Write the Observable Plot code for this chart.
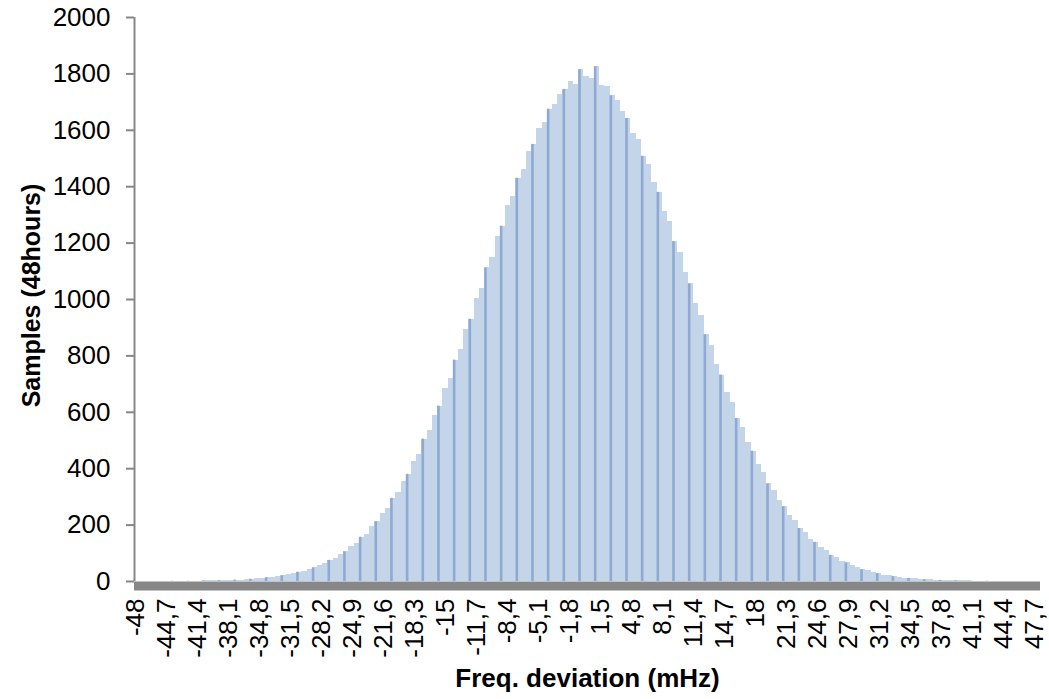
<!DOCTYPE html>
<html><head><meta charset="utf-8">
<script src="https://cdn.jsdelivr.net/npm/d3@7"></script>
<script src="https://cdn.jsdelivr.net/npm/@observablehq/plot@0.6"></script>
<style>body{margin:0;background:#fff;}</style>
</head><body><div id="chart"></div>
<script>
// Histogram of frequency deviation (mHz) in 0.556 mHz slices
const binStart = -48.3;
const binWidth = 0.556;
const counts = [
  0,0,0,0,0,0,0,1,0,1,
  1,1,1,2,2,2,
  3,3,4,5,5,7,8,9,11,13,
  15,18,20,25,27,33,36,44,48,58,
  63,75,82,97,105,124,134,157,168,196,
  212,240,258,295,315,356,380,426,452,505,
  535,590,622,685,720,785,822,892,930,1002,
  1040,1112,1150,1225,1260,1332,1365,1430,1462,1525,
  1550,1605,1628,1675,1690,1728,1745,1772,1762,1815,
  1790,
  1782,1825,1760,1755,1722,1705,1668,1642,1590,1568,
  1508,1478,1415,1380,1312,1275,1205,1166,1095,1055,
  985,945,875,838,770,732,670,636,578,545,
  492,462,415,388,346,322,286,265,233,216,
  188,174,150,139,119,109,93,85,72,66,
  55,50,42,38,31,28,23,21,17,15,
  12,11,9,8,6,6,4,4,3,3,
  2,2,2,1,1,1,1,0,1,0,
  0,0,0,0,0,0
];
const xTicks = [-48,-44.7,-41.4,-38.1,-34.8,-31.5,-28.2,-24.9,-21.6,-18.3,-15,-11.7,-8.4,-5.1,-1.8,1.5,4.8,8.1,11.4,14.7,18,21.3,24.6,27.9,31.2,34.5,37.8,41.1,44.4,47.7];
const yTicks = [0,200,400,600,800,1000,1200,1400,1600,1800,2000];
const xTitle = "Freq. deviation (mHz)";
const yTitle = "Samples (48hours)";

const bins = counts.map((c, i) => ({x1: binStart + i * binWidth, x2: binStart + (i + 1) * binWidth, count: c, dark: i % 3 === 1}));
const darkBins = bins.filter(d => d.dark);

const chart = Plot.plot({
  width: 1049, height: 699,
  marginLeft: 134, marginRight: 9, marginTop: 17, marginBottom: 118,
  style: {fontFamily: 'Arial, "Liberation Sans", sans-serif', fontSize: "26px", color: "#000", background: "#fff"},
  x: {type: "linear", domain: [-48.32, 48.12]},
  y: {domain: [0, 2000]},
  marks: [
    Plot.rectY(bins, {x1: "x1", x2: "x2", y: "count", fill: "#c5d5e9", shapeRendering: "crispEdges"}),
    Plot.rectY(darkBins, {x1: "x1", x2: d => d.x1 + 0.28, y: "count", fill: "#8eaad3"}),
    Plot.ruleY([0], {stroke: "#878787", strokeWidth: 9, dy: 4.5}),
    Plot.ruleX([-48.32], {stroke: "#878787", strokeWidth: 2}),
    Plot.axisY({ticks: yTicks, tickFormat: d => String(d), tickSize: 8, tickPadding: 16, stroke: "#878787", strokeWidth: 2, fill: "#000", fontSize: 26, label: null}),
    Plot.axisX({ticks: xTicks, tickFormat: d => String(d).replace(".", ","), tickRotate: -90, tickSize: 0, tickPadding: 17, dx: -1.5, fill: "#000", fontSize: 26, label: null}),
    Plot.text([xTitle], {text: d => d, frameAnchor: "bottom", dy: 105, fontWeight: "bold", fontSize: 26, fill: "#000"}),
    Plot.text([yTitle], {text: d => d, frameAnchor: "left", textAnchor: "middle", dx: -103, dy: -4, rotate: -90, fontWeight: "bold", fontSize: 25, fill: "#000"})
  ]
});
document.getElementById("chart").appendChild(chart);
</script>
</body></html>
